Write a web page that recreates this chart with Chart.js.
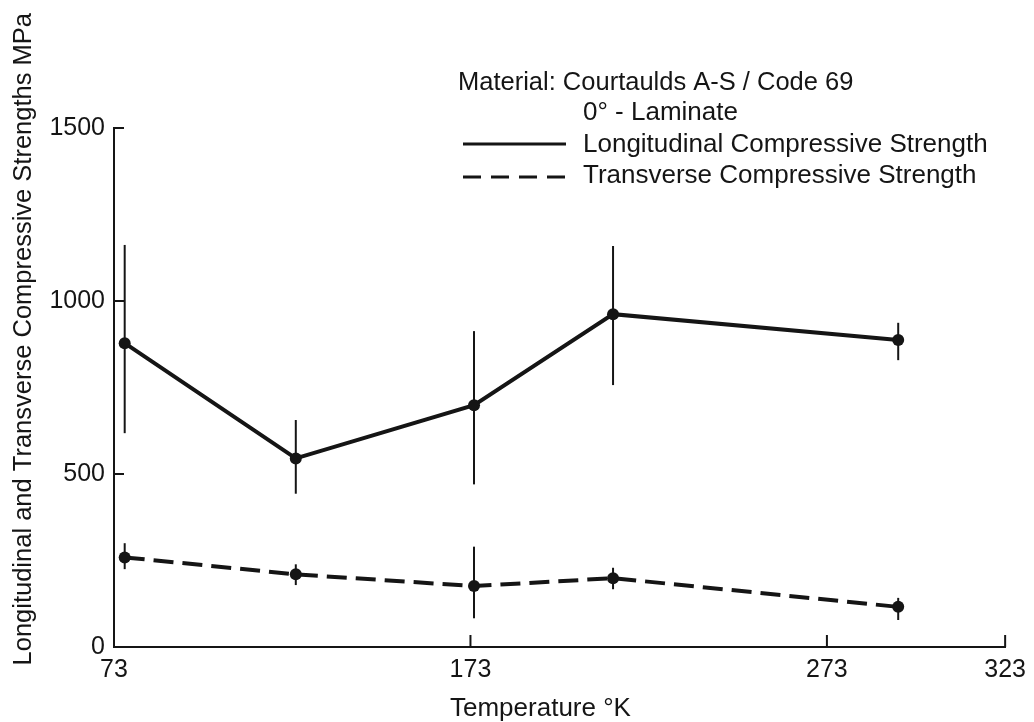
<!DOCTYPE html>
<html>
<head>
<meta charset="utf-8">
<script src="https://cdn.jsdelivr.net/npm/chart.js@4.4.1/dist/chart.umd.min.js"></script>
<style>
  html, body { margin: 0; padding: 0; background: #ffffff; }
  #wrap { width: 1034px; height: 722px; position: relative; }
</style>
</head>
<body>
<div id="wrap"><canvas id="c" width="1034" height="722"></canvas></div>
<script>
// ---- data ----
const xTickValues = [73, 173, 273, 323];
const yTickValues = [0, 500, 1000, 1500];
const temps = [76, 124, 174, 213, 293];
const longStrength = [878, 545, 699, 962, 887];
const longHigh = [1162, 656, 913, 1159, 937];
const longLow = [618, 443, 470, 757, 829];
const transStrength = [259, 210, 176, 199, 116];
const transHigh = [300, 239, 290, 229, 142];
const transLow = [225, 179, 83, 167, 78];
const xTitle = 'Temperature \u00B0K';
const yTitle = 'Longitudinal and Transverse Compressive Strengths MPa';
const legendHeader = ['Material: Courtaulds A-S / Code 69', '0\u00B0 - Laminate'];
const seriesNames = ['Longitudinal Compressive Strength', 'Transverse Compressive Strength'];

const FONT = '"Liberation Sans", Arial, sans-serif';
const INK = '#151515';

const longPoints = temps.map((t, i) => ({ x: t, y: longStrength[i] }));
const transPoints = temps.map((t, i) => ({ x: t, y: transStrength[i] }));

const errorBars = {
  id: 'errorBars',
  beforeDatasetsDraw(chart) {
    const { ctx, scales: { x, y } } = chart;
    ctx.save();
    ctx.strokeStyle = INK;
    ctx.lineWidth = 2;
    const sets = [[longHigh, longLow], [transHigh, transLow]];
    sets.forEach(([hi, lo]) => {
      temps.forEach((t, i) => {
        const px = x.getPixelForValue(t);
        ctx.beginPath();
        ctx.moveTo(px, y.getPixelForValue(hi[i]));
        ctx.lineTo(px, y.getPixelForValue(lo[i]));
        ctx.stroke();
      });
    });
    ctx.restore();
  }
};

const decorations = {
  id: 'decorations',
  afterDraw(chart) {
    const { ctx, scales: { x, y } } = chart;
    ctx.save();
    // inward tick marks
    ctx.strokeStyle = INK;
    ctx.lineWidth = 2;
    yTickValues.forEach(v => {
      const py = y.getPixelForValue(v);
      ctx.beginPath();
      ctx.moveTo(x.left, py);
      ctx.lineTo(x.left + 10, py);
      ctx.stroke();
    });
    xTickValues.forEach(v => {
      const px = x.getPixelForValue(v);
      ctx.beginPath();
      ctx.moveTo(px, y.bottom);
      ctx.lineTo(px, y.bottom - 12);
      ctx.stroke();
    });
    // axis titles
    ctx.fillStyle = INK;
    ctx.textBaseline = 'alphabetic';
    ctx.textAlign = 'left';
    ctx.font = '26px ' + FONT;
    ctx.fillText(xTitle, 450, 716);
    ctx.save();
    ctx.font = '25.5px ' + FONT;
    ctx.translate(31, 13);
    ctx.rotate(-Math.PI / 2);
    ctx.textAlign = 'right';
    ctx.fillText(yTitle, 0, 0);
    ctx.restore();
    // legend
    ctx.textAlign = 'left';
    ctx.font = '25.5px ' + FONT;
    ctx.fillText(legendHeader[0], 458, 90);
    ctx.font = '26px ' + FONT;
    ctx.fillText(legendHeader[1], 583, 120);
    ctx.fillText(seriesNames[0], 583, 152);
    ctx.fillText(seriesNames[1], 583, 183);
    ctx.lineWidth = 3;
    ctx.beginPath();
    ctx.moveTo(463, 144);
    ctx.lineTo(566, 144);
    ctx.stroke();
    ctx.setLineDash([18, 10]);
    ctx.beginPath();
    ctx.moveTo(463, 177);
    ctx.lineTo(566, 177);
    ctx.stroke();
    ctx.restore();
  }
};

new Chart(document.getElementById('c'), {
  type: 'line',
  data: {
    datasets: [
      {
        label: seriesNames[0],
        data: longPoints,
        borderColor: INK,
        backgroundColor: INK,
        borderWidth: 4,
        pointRadius: 6,
        pointHoverRadius: 6,
        pointBackgroundColor: INK,
        pointBorderWidth: 0,
        tension: 0,
        fill: false
      },
      {
        label: seriesNames[1],
        data: transPoints,
        borderColor: INK,
        backgroundColor: INK,
        borderWidth: 4,
        borderDash: [20, 9],
        pointRadius: 6,
        pointHoverRadius: 6,
        pointBackgroundColor: INK,
        pointBorderWidth: 0,
        tension: 0,
        fill: false
      }
    ]
  },
  options: {
    responsive: false,
    animation: false,
    events: [],
    layout: { padding: { top: 128, right: 26, bottom: 0, left: 0 } },
    plugins: {
      legend: { display: false },
      tooltip: { enabled: false },
      title: { display: false }
    },
    scales: {
      x: {
        type: 'linear',
        min: 73,
        max: 323,
        afterBuildTicks: s => { s.ticks = xTickValues.map(v => ({ value: v })); },
        afterFit: s => { s.height = 75; },
        grid: { drawOnChartArea: false, drawTicks: false },
        border: { display: true, color: INK, width: 2 },
        ticks: {
          color: INK,
          font: { size: 25, family: FONT },
          padding: 8,
          maxRotation: 0,
          autoSkip: false,
          callback: v => String(v)
        }
      },
      y: {
        type: 'linear',
        min: 0,
        max: 1500,
        afterBuildTicks: s => { s.ticks = yTickValues.map(v => ({ value: v })); },
        afterFit: s => { s.width = 114; },
        grid: { drawOnChartArea: false, drawTicks: false },
        border: { display: true, color: INK, width: 2 },
        ticks: {
          color: INK,
          font: { size: 25, family: FONT },
          padding: 9,
          callback: v => String(v)
        }
      }
    }
  },
  plugins: [errorBars, decorations]
});
</script>
</body>
</html>
